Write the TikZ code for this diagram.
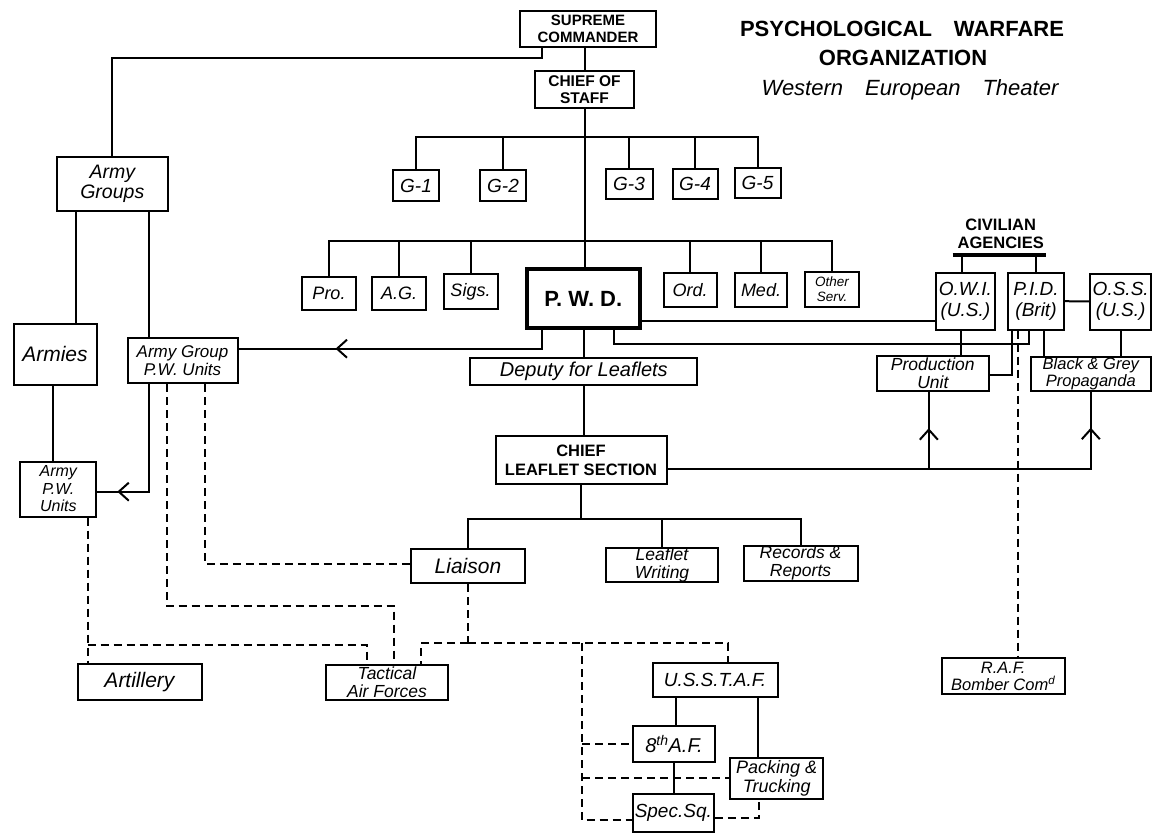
\documentclass[tikz,border=0pt]{standalone}
\usepackage{fontspec}
\setmainfont{Liberation Sans}
\usetikzlibrary{arrows.meta,decorations.markings}

\begin{document}
\begin{tikzpicture}[x=1pt, y=-1pt,
    box/.style={draw, line width=2pt, inner sep=0pt, align=center,
        font=\itshape\fontsize{19}{19}\selectfont},
    capbox/.style={box, font=\bfseries\fontsize{15}{16.5}\selectfont},
    link/.style={line width=2pt},
    dashlink/.style={line width=2pt, dash pattern=on 8pt off 5pt},
    midarrow/.style={postaction={decorate}, decoration={markings,
        mark=at position #1 with {\arrow{Straight Barb[length=10pt,width=18pt]}}}}]

    \useasboundingbox (0,0) rectangle (1161,834);

    % Title
    \node[font=\bfseries\fontsize{22}{22}\selectfont] (title) at (902,29) {PSYCHOLOGICAL\quad WARFARE};
    \node[font=\bfseries\fontsize{22}{22}\selectfont] (title2) at (903,58) {ORGANIZATION};
    \node[font=\itshape\fontsize{22}{22}\selectfont] (theater) at (910,90) {Western\quad European\quad Theater};

    % Command
    \node[capbox, minimum width=136pt, minimum height=36pt] (sup) at (588,29) {SUPREME\\COMMANDER};
    \node[capbox, minimum width=99pt, minimum height=37pt, font=\bfseries\fontsize{15.5}{17}\selectfont] (cos) at (584.5,90) {CHIEF OF\\STAFF};

    % General staff
    \node[box, minimum width=46pt, minimum height=31pt] (g1) at (416,186) {G-1};
    \node[box, minimum width=46pt, minimum height=31pt] (g2) at (503,186) {G-2};
    \node[box, minimum width=47pt, minimum height=30pt] (g3) at (629,184) {G-3};
    \node[box, minimum width=45pt, minimum height=30pt] (g4) at (695,184) {G-4};
    \node[box, minimum width=46pt, minimum height=30pt] (g5) at (757.5,183) {G-5};

    % Special staff
    \node[box, minimum width=54pt, minimum height=33pt, font=\itshape\fontsize{18}{18}\selectfont] (pro) at (329,293) {Pro.};
    \node[box, minimum width=54pt, minimum height=33pt, font=\itshape\fontsize{18}{18}\selectfont] (ag) at (399,293) {A.G.};
    \node[box, minimum width=54pt, minimum height=35pt, font=\itshape\fontsize{18}{18}\selectfont] (sigs) at (470.5,291.5) {Sigs.};
    \node[box, line width=4pt, minimum width=113pt, minimum height=59pt, font=\bfseries\fontsize{22}{22}\selectfont] (pwd) at (583.3,298.7) {P.\ W.\ D.};
    \node[box, minimum width=53pt, minimum height=34pt, font=\itshape\fontsize{18}{18}\selectfont] (ord) at (690,290) {Ord.};
    \node[box, minimum width=52pt, minimum height=34pt, font=\itshape\fontsize{18}{18}\selectfont] (med) at (761,290) {Med.};
    \node[box, minimum width=54pt, minimum height=35pt, font=\itshape\fontsize{13.5}{14.5}\selectfont] (oth) at (832,289) {Other\\Serv.};

    % Civilian agencies
    \node[font=\bfseries\fontsize{16.5}{18}\selectfont, align=center] (civ) at (1000.7,234) {CIVILIAN\\AGENCIES};
    \draw[line width=3.5pt] (952.7,255) -- (1046,255);
    \node[box, minimum width=59pt, minimum height=57pt, font=\itshape\fontsize{19}{21}\selectfont] (owi) at (965.3,301.2) {O.W.I.\\(U.S.)};
    \node[box, minimum width=56pt, minimum height=57pt, font=\itshape\fontsize{19}{21}\selectfont] (pid) at (1036,301.2) {P.I.D.\\(Brit)};
    \node[box, minimum width=61pt, minimum height=56pt, font=\itshape\fontsize{19}{21}\selectfont] (oss) at (1120.7,301.5) {O.S.S.\\(U.S.)};
    \node[box, minimum width=112pt, minimum height=35pt, font=\itshape\fontsize{17.5}{18}\selectfont] (prod) at (932.8,373.7) {Production\\Unit};
    \node[box, minimum width=120pt, minimum height=34pt, font=\itshape\fontsize{16.5}{16.5}\selectfont] (bgp) at (1090.8,373.7) {Black \& Grey\\Propaganda};

    % Field forces
    \node[box, minimum width=111pt, minimum height=54pt, font=\itshape\fontsize{19.5}{20}\selectfont] (armygroups) at (112.3,184) {Army\\Groups};
    \node[box, minimum width=83pt, minimum height=61pt, font=\itshape\fontsize{21}{21}\selectfont] (armies) at (55,354) {Armies};
    \node[box, minimum width=110pt, minimum height=45pt, font=\itshape\fontsize{17}{18.5}\selectfont] (agpwu) at (182.5,360.7) {Army Group\\P.W. Units};
    \node[box, minimum width=76pt, minimum height=55pt, font=\itshape\fontsize{16}{17.5}\selectfont] (apwu) at (58.3,489) {Army\\P.W.\\Units};

    % Leaflet section
    \node[box, minimum width=227pt, minimum height=27pt, font=\itshape\fontsize{20}{20}\selectfont] (deputy) at (583.8,371.7) {Deputy for Leaflets};
    \node[capbox, minimum width=171pt, minimum height=48pt, font=\bfseries\fontsize{16.5}{19}\selectfont] (chief) at (581,460) {CHIEF\\LEAFLET SECTION};
    \node[box, minimum width=114pt, minimum height=34pt, font=\itshape\fontsize{21}{21}\selectfont] (liaison) at (468,566.3) {Liaison};
    \node[box, minimum width=112pt, minimum height=34pt, font=\itshape\fontsize{17.5}{18}\selectfont] (lw) at (662,565.3) {Leaflet\\Writing};
    \node[box, minimum width=114pt, minimum height=35pt, font=\itshape\fontsize{17.5}{18}\selectfont] (rr) at (800.5,563.3) {Records \&\\Reports};

    % Air and artillery
    \node[box, minimum width=124pt, minimum height=36pt, font=\itshape\fontsize{21}{21}\selectfont] (art) at (139.5,681.7) {Artillery};
    \node[box, minimum width=122pt, minimum height=35pt, font=\itshape\fontsize{17.5}{18}\selectfont] (taf) at (387,682) {Tactical\\Air Forces};
    \node[box, minimum width=125pt, minimum height=34pt, font=\itshape\fontsize{19}{19}\selectfont] (usstaf) at (715,679.5) {U.S.S.T.A.F.};
    \node[box, minimum width=82pt, minimum height=36pt, font=\itshape\fontsize{20}{20}\selectfont] (eaf) at (674,744) {8\textsuperscript{th}A.F.};
    \node[box, minimum width=93pt, minimum height=41pt, font=\itshape\fontsize{18}{19}\selectfont] (pt) at (776.7,778.3) {Packing \&\\Trucking};
    \node[box, minimum width=81pt, minimum height=38pt, font=\itshape\fontsize{19}{19}\selectfont] (spec) at (673.3,813.3) {Spec.Sq.};
    \node[box, minimum width=123pt, minimum height=36pt, font=\itshape\fontsize{16.5}{17.5}\selectfont] (raf) at (1003.2,676.2) {R.A.F.\\Bomber Com\textsuperscript{d}};

    % Junctions
    \coordinate (gbar) at (584,137);
    \coordinate (sbar) at (584,241);
    \coordinate (lbar) at (582,519);
    \coordinate (artjoin) at (87.5,645);
    \coordinate (liaisonjoin) at (468,643);
    \coordinate (airjoin) at (582,643);

    % Chain of command
    \draw[link] (cos.north) -- (cos.north |- sup.south);
    \draw[link] (cos.south) -- (cos.south |- pwd.north);
    \draw[link] (g1.north) |- (gbar) -| (g5.north);
    \draw[link] (g2.north) -- (g2.north |- gbar);
    \draw[link] (g3.north) -- (g3.north |- gbar);
    \draw[link] (g4.north) -- (g4.north |- gbar);
    \draw[link] (pro.north) |- (sbar) -| (oth.north);
    \draw[link] (ag.north) -- (ag.north |- sbar);
    \draw[link] (sigs.north) -- (sigs.north |- sbar);
    \draw[link] (ord.north) -- (ord.north |- sbar);
    \draw[link] (med.north) -- (med.north |- sbar);

    % Armies
    \draw[link] ([xshift=-46pt]sup.south) -- ++(0,10) -| (armygroups.north);
    \draw[link] ([xshift=-36pt]armygroups.south) -- ([xshift=-36pt]armygroups.south |- armies.north);
    \draw[link] ([xshift=37pt]armygroups.south) -- ([xshift=37pt]armygroups.south |- agpwu.north);
    \draw[link] ([xshift=-2pt]armies.south) -- ([xshift=-2pt]armies.south |- apwu.north);
    \draw[link, midarrow=-20pt] ([xshift=-34pt]agpwu.south) |- ([yshift=-2.7pt]apwu.east);
    \draw[link, midarrow=-97pt] ([xshift=-41pt]pwd.south) |- ([yshift=12pt]agpwu.east);

    % Civilian links
    \draw[link] ([xshift=-3pt]owi.north) -- ++(0,-17);
    \draw[link] (pid.north) -- ++(0,-17);
    \draw[link] ([yshift=-22pt]pwd.east) -- ([yshift=-22pt]pwd.east -| owi.west);
    \draw[link] ([xshift=31pt]pwd.south) -- ++(0,13.5) -| ([xshift=-7pt]pid.south);
    \draw[link] ([xshift=-4pt]owi.south) -- ([xshift=-4pt]owi.south |- prod.north);
    \draw[link] ([xshift=-24pt]pid.south) |- ([yshift=-1pt]prod.east);
    \draw[link] ([xshift=8pt]pid.south) -- ([xshift=8pt]pid.south |- bgp.north);
    \draw[link] (pid.east) -- (oss.west);
    \draw[link] (oss.south) -- (oss.south |- bgp.north);

    % Leaflets
    \draw[link] (deputy.north) -- (deputy.north |- pwd.south);
    \draw[link] (deputy.south) -- (deputy.south |- chief.north);
    \draw[link] (chief.south) -- (chief.south |- lbar);
    \draw[link] (liaison.north) |- (lbar) -| (rr.north);
    \draw[link] (lw.north) -- (lw.north |- lbar);
    \draw[link, midarrow=-36pt] ([yshift=-9pt]chief.east) -| ([xshift=-4pt]prod.south);
    \draw[link, midarrow=-36pt] ([yshift=-9pt]chief.east) -| (bgp.south);

    % Air forces
    \draw[link] ([xshift=-39pt]usstaf.south) -- ([xshift=-39pt]usstaf.south |- eaf.north);
    \draw[link] ([xshift=43pt]usstaf.south) -- ([xshift=43pt]usstaf.south |- pt.north);
    \draw[link] (eaf.south) -- (eaf.south |- spec.north);

    % Liaison (dashed)
    \draw[dashlink] (artjoin |- apwu.south) -- (artjoin |- art.north);
    \draw[dashlink] (artjoin) -| ([xshift=-20pt]taf.north);
    \draw[dashlink] ([xshift=-16pt]agpwu.south) -- ++(0,222) -| ([xshift=7pt]taf.north);
    \draw[dashlink] ([xshift=22.5pt]agpwu.south) |- ([yshift=2pt]liaison.west);
    \draw[dashlink] (liaison.south) -- (liaisonjoin);
    \draw[dashlink] (liaisonjoin) -| ([xshift=34pt]taf.north);
    \draw[dashlink] (liaisonjoin) -| ([xshift=13pt]usstaf.north);
    \draw[dashlink] (airjoin) |- ([yshift=-7pt]spec.west);
    \draw[dashlink] (airjoin |- eaf.west) -- (eaf.west);
    \draw[dashlink] (airjoin |- pt.west) -- (pt.west);
    \draw[dashlink] ([yshift=-5pt]spec.east) -| ([xshift=-18pt]pt.south);
    \draw[dashlink] ([xshift=-18.5pt]pid.south) -- ([xshift=-18.5pt]pid.south |- raf.north);

\end{tikzpicture}
\end{document}
